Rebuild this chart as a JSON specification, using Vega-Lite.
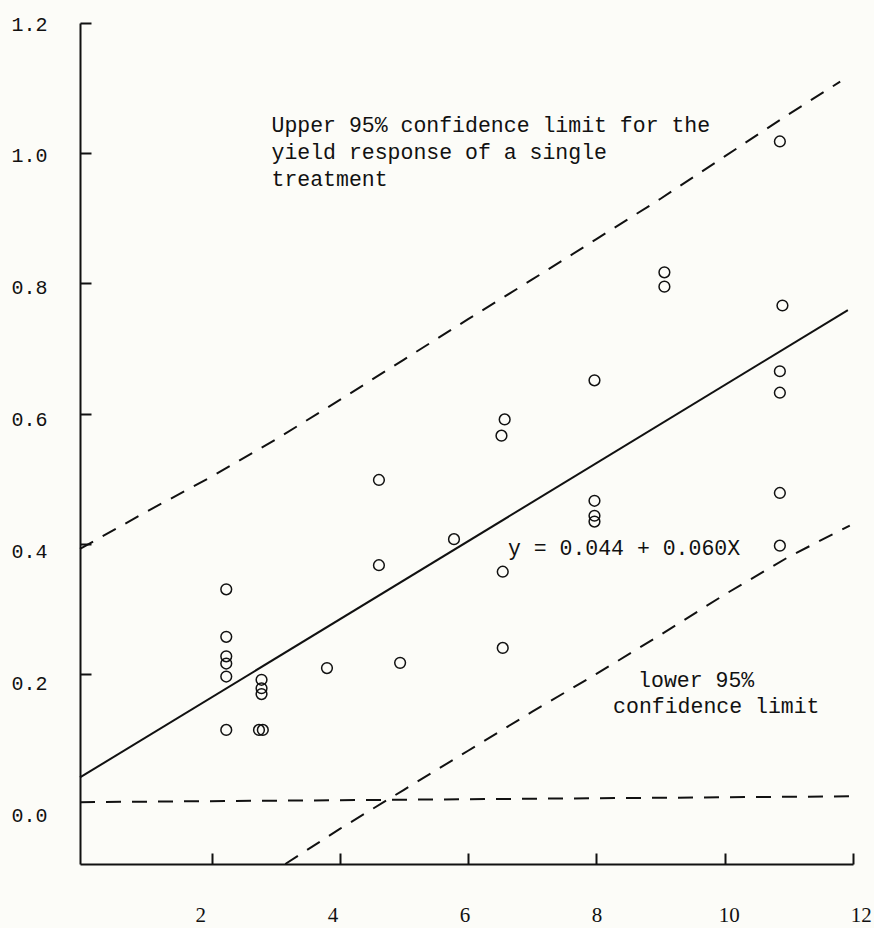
{
  "$schema": "https://vega.github.io/schema/vega-lite/v6.json",
  "width": 773,
  "height": 841,
  "autosize": {"type": "none"},
  "padding": {"left": 80, "top": 23, "right": 21, "bottom": 64},
  "background": "#fcfcf8",
  "config": {"view": {"stroke": null}},
  "datasets": {
    "points": [
      {"x": 2.23, "y": 0.330}, {"x": 2.23, "y": 0.257}, {"x": 2.23, "y": 0.227}, {"x": 2.23, "y": 0.216}, {"x": 2.23, "y": 0.196}, {"x": 2.23, "y": 0.114},
      {"x": 2.78, "y": 0.191}, {"x": 2.78, "y": 0.178}, {"x": 2.78, "y": 0.169}, {"x": 2.74, "y": 0.114}, {"x": 2.80, "y": 0.114},
      {"x": 3.80, "y": 0.209},
      {"x": 4.61, "y": 0.498}, {"x": 4.61, "y": 0.367},
      {"x": 4.94, "y": 0.217},
      {"x": 5.78, "y": 0.407},
      {"x": 6.52, "y": 0.566}, {"x": 6.57, "y": 0.591}, {"x": 6.54, "y": 0.357}, {"x": 6.54, "y": 0.240},
      {"x": 7.97, "y": 0.651}, {"x": 7.97, "y": 0.466}, {"x": 7.97, "y": 0.443}, {"x": 7.97, "y": 0.434},
      {"x": 9.06, "y": 0.817}, {"x": 9.06, "y": 0.795},
      {"x": 10.86, "y": 1.018}, {"x": 10.90, "y": 0.766}, {"x": 10.86, "y": 0.665}, {"x": 10.86, "y": 0.632}, {"x": 10.86, "y": 0.478}, {"x": 10.86, "y": 0.397}
    ],
    "fit": [
      {"x": -0.05, "y": 0.041}, {"x": 11.92, "y": 0.759}
    ],
    "limits": [
      {"series": "upper", "x": -0.05, "y": 0.392}, {"series": "upper", "x": 1, "y": 0.45}, {"series": "upper", "x": 2, "y": 0.503}, {"series": "upper", "x": 3, "y": 0.56}, {"series": "upper", "x": 4, "y": 0.621}, {"series": "upper", "x": 5, "y": 0.683}, {"series": "upper", "x": 6, "y": 0.745}, {"series": "upper", "x": 7, "y": 0.806}, {"series": "upper", "x": 8, "y": 0.868}, {"series": "upper", "x": 9, "y": 0.93}, {"series": "upper", "x": 10, "y": 0.995}, {"series": "upper", "x": 11, "y": 1.06}, {"series": "upper", "x": 11.8, "y": 1.11},
      {"series": "lower", "x": 3.15, "y": -0.092}, {"series": "lower", "x": 4, "y": -0.038}, {"series": "lower", "x": 5, "y": 0.022}, {"series": "lower", "x": 6, "y": 0.082}, {"series": "lower", "x": 7, "y": 0.142}, {"series": "lower", "x": 8, "y": 0.2}, {"series": "lower", "x": 9, "y": 0.26}, {"series": "lower", "x": 10, "y": 0.322}, {"series": "lower", "x": 11, "y": 0.38}, {"series": "lower", "x": 11.95, "y": 0.428},
      {"series": "zero", "x": -0.05, "y": 0.003}, {"series": "zero", "x": 12, "y": 0.012}
    ],
    "labels": [
      {"x": 2.935, "y": 1.032, "text": ["Upper 95% confidence limit for the", "yield response of a single", "treatment"]},
      {"x": 6.62, "y": 0.383, "text": "y = 0.044 + 0.060X"},
      {"x": 8.65, "y": 0.1805, "text": "lower 95%"},
      {"x": 8.26, "y": 0.1405, "text": "confidence limit"}
    ]
  },
  "layer": [
    {
      "data": {"name": "points"},
      "mark": {"type": "point", "shape": "circle", "filled": false, "stroke": "#111", "strokeWidth": 1.5, "size": 115, "opacity": 1},
      "encoding": {
        "x": {
          "field": "x", "type": "quantitative",
          "scale": {"domain": [-0.05, 12], "nice": false, "zero": false},
          "axis": {
            "title": null, "grid": false,
            "values": [2, 4, 6, 8, 10, 12], "format": "d",
            "tickSize": -11, "tickWidth": 2, "tickColor": "#111",
            "domainColor": "#111", "domainWidth": 2,
            "labelFont": "Liberation Serif", "labelFontSize": 21, "labelColor": "#111",
            "labelPadding": 62, "labelBaseline": "middle",
            "labelFlush": false, "labelOverlap": false, "labelBound": false,
            "labelOffset": {"expr": "-15 + datum.value * 1.9"}
          }
        },
        "y": {
          "field": "y", "type": "quantitative",
          "scale": {"domain": [-0.092, 1.2], "nice": false, "zero": false},
          "axis": {
            "title": null, "grid": false,
            "values": [0, 0.2, 0.4, 0.6, 0.8, 1.0, 1.2], "format": ".1f",
            "tickSize": -11, "tickWidth": 2, "tickColor": "#111",
            "tickOpacity": {"condition": {"test": "datum.value === 0", "value": 0}, "value": 1},
            "domainColor": "#111", "domainWidth": 2,
            "labelFont": "Liberation Mono", "labelFontSize": 20, "labelColor": "#111",
            "labelPadding": 44, "labelBaseline": "middle",
            "labelFlush": false, "labelOverlap": false, "labelBound": false,
            "labelOffset": {"expr": "1 + (1.2 - datum.value) * 9"}
          }
        }
      }
    },
    {
      "data": {"name": "fit"},
      "mark": {"type": "line", "stroke": "#111", "strokeWidth": 2},
      "encoding": {
        "x": {"field": "x", "type": "quantitative"},
        "y": {"field": "y", "type": "quantitative"}
      }
    },
    {
      "data": {"name": "limits"},
      "mark": {"type": "line", "stroke": "#111", "strokeWidth": 2, "strokeDash": [15, 11]},
      "encoding": {
        "x": {"field": "x", "type": "quantitative"},
        "y": {"field": "y", "type": "quantitative"},
        "detail": {"field": "series"}
      }
    },
    {
      "data": {"name": "labels"},
      "mark": {"type": "text", "font": "Liberation Mono", "fontSize": 21.5, "color": "#111", "align": "left", "baseline": "alphabetic", "lineHeight": 27},
      "encoding": {
        "x": {"field": "x", "type": "quantitative"},
        "y": {"field": "y", "type": "quantitative"},
        "text": {"field": "text"}
      }
    }
  ]
}
